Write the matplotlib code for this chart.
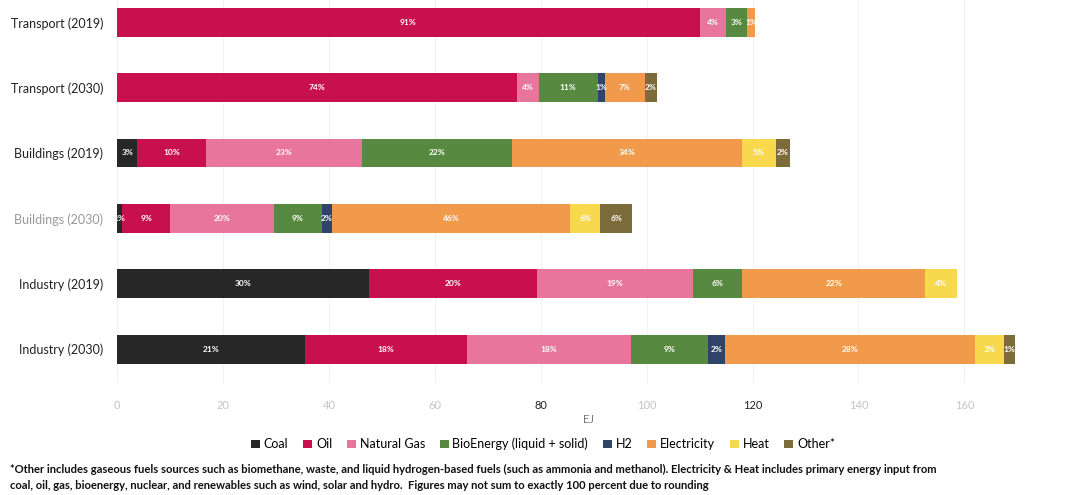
import matplotlib
matplotlib.use("Agg")
import matplotlib.pyplot as plt
import numpy as np

plt.rcParams['font.family'] = ['Lato', 'DejaVu Sans']

# rows top to bottom
sectors = ["Transport (2019)", "Transport (2030)", "Buildings (2019)",
           "Buildings (2030)", "Industry (2019)", "Industry (2030)"]
fuels = ["Coal", "Oil", "Natural Gas", "BioEnergy (liquid + solid)", "H2",
         "Electricity", "Heat", "Other*"]
colors = ["#272727", "#C8104E", "#E8769C", "#578A40", "#2F4468",
          "#F29A4B", "#F8D84C", "#7C6B3B"]

# EJ per fuel, one list per sector
coal = [0.0, 0.0, 3.8, 1.0, 47.6, 35.5]
oil = [110.0, 75.5, 12.9, 9.0, 31.6, 30.6]
gas = [5.0, 4.1, 29.5, 19.6, 29.5, 30.9]
bio = [3.9, 11.2, 28.3, 9.0, 9.3, 14.6]
h2 = [0.0, 1.3, 0.0, 2.0, 0.0, 3.2]
elec = [1.6, 7.5, 43.5, 45.0, 34.6, 47.3]
heat = [0.0, 0.0, 6.4, 5.6, 6.0, 5.3]
other = [0.0, 2.4, 2.6, 6.1, 0.0, 2.1]

series = [coal, oil, gas, bio, h2, elec, heat, other]
data = np.array(series)
totals = data.sum(axis=0)

fig = plt.figure(figsize=(10.65, 4.95), dpi=100)
ax = fig.add_axes([0.11, 0.226, 0.885, 0.774])

y = np.arange(len(sectors))
left = np.zeros(len(sectors))
for vals, name, c in zip(series, fuels, colors):
    vals = np.array(vals)
    ax.barh(y, vals, left=left, height=0.44, color=c, label=name, zorder=2)
    for i, v in enumerate(vals):
        if v <= 0:
            continue
        pct = round(v / totals[i] * 100)
        ax.text(left[i] + v / 2, y[i], f"{pct}%", ha='center', va='center',
                color='white', fontsize=6, fontweight='bold', zorder=3)
    left += vals

ax.set_ylim(5.52, -0.34)
ax.set_xlim(0, 178)
ax.set_xticks(range(0, 161, 20))
ax.set_yticks(y)
ax.set_yticklabels(sectors, fontsize=9)
for lab in ax.get_yticklabels():
    if lab.get_text() == "Buildings (2030)":
        lab.set_color("#999999")
    else:
        lab.set_color("#222222")
for t, lab in zip(ax.get_xticks(), ax.get_xticklabels()):
    lab.set_fontsize(8)
    lab.set_color("#222222" if t in (80, 120) else "#c4c4c4")
ax.tick_params(length=0, pad=10)
ax.tick_params(axis='x', pad=12)
ax.grid(axis='x', color='#f2f2f2', linewidth=0.8, zorder=0)
for s in ax.spines.values():
    s.set_visible(False)
ax.set_xlabel("EJ", fontsize=8, color="#777777", labelpad=2)

fig.legend(loc='center', bbox_to_anchor=(0.51, 0.103), ncol=8, frameon=False,
           fontsize=9, handlelength=0.7, handleheight=0.7, handletextpad=0.3,
           columnspacing=1.2)

fig.text(0.009, 0.052,
         "*Other includes gaseous fuels sources such as biomethane, waste, and liquid hydrogen-based fuels "
         "(such as ammonia and methanol). Electricity & Heat includes primary energy input from",
         fontsize=8.1, color='#111111', fontweight='bold', va='center')
fig.text(0.009, 0.019,
         "coal, oil, gas, bioenergy, nuclear, and renewables such as wind, solar and hydro.  "
         "Figures may not sum to exactly 100 percent due to rounding",
         fontsize=8.1, color='#111111', fontweight='bold', va='center')

fig.savefig("out.png", dpi=100)
